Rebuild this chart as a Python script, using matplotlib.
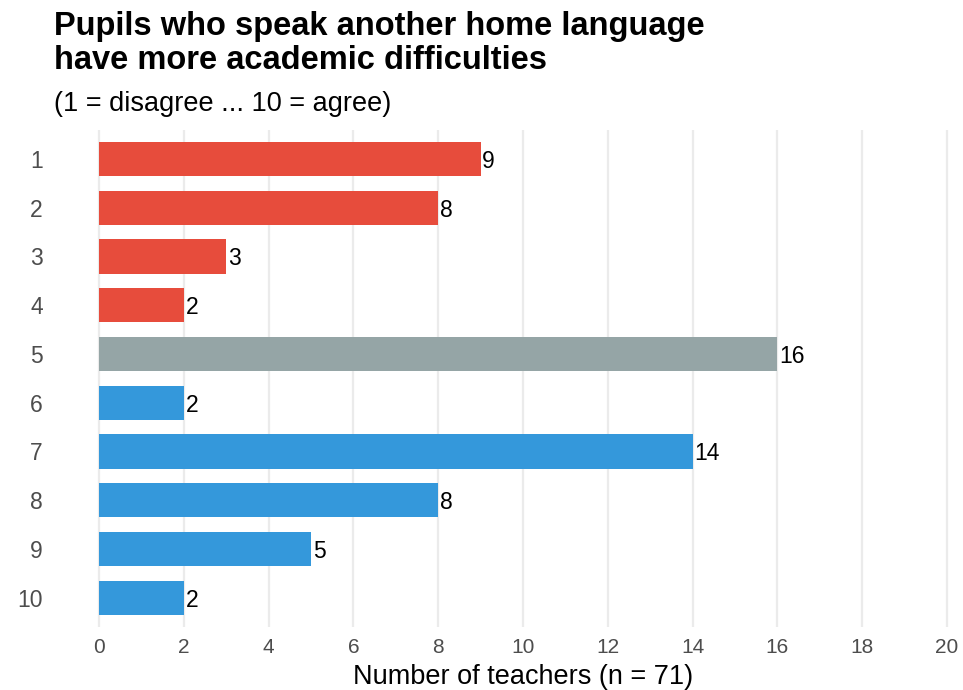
import matplotlib
matplotlib.use("Agg")
import matplotlib.pyplot as plt

# Likert responses, 1 = disagree ... 10 = agree
ratings = ["1", "2", "3", "4", "5", "6", "7", "8", "9", "10"]
counts = [9, 8, 3, 2, 16, 2, 14, 8, 5, 2]
groups = ["disagree", "disagree", "disagree", "disagree", "neutral",
          "agree", "agree", "agree", "agree", "agree"]

COLORS = {"disagree": "#E74C3C", "neutral": "#95A5A6", "agree": "#3498DB"}
FONT = ["Liberation Sans", "DejaVu Sans"]
XMIN, XMAX = -1, 20.2

fig = plt.figure(figsize=(9.63, 6.9), dpi=100)
ax = fig.add_axes([0.0588, 0.0913, 0.9334, 0.7207])

ypos = list(range(1, len(ratings) + 1))
ax.barh(ypos, counts, height=0.7,
        color=[COLORS[g] for g in groups], zorder=2)

for y, c in zip(ypos, counts):
    ax.text(c + 0.04, y, str(c), va="center_baseline", ha="left",
            fontsize=16.5, family=FONT, color="black")

ax.set_xlim(XMIN, XMAX)
ax.set_ylim(10.6, 0.4)
ax.set_xticks(range(0, 21, 2))
ax.set_yticks(ypos)
ax.set_yticklabels(ratings)

ax.grid(axis="x", color="#EBEBEB", linewidth=1.6, zorder=0)
ax.grid(axis="y", visible=False)
for s in ax.spines.values():
    s.set_visible(False)
ax.tick_params(axis="both", length=0, labelcolor="#4D4D4D")
ax.tick_params(axis="x", pad=8, labelsize=15)
ax.tick_params(axis="y", pad=10, labelsize=16.5)
for lbl in ax.get_xticklabels() + ax.get_yticklabels():
    lbl.set_family(FONT)

# centre the axis title over the 0-20 range
ax.set_xlabel("Number of teachers (n = 71)", fontsize=19.5, family=FONT,
              color="black")
ax.xaxis.set_label_coords((10 - XMIN) / (XMAX - XMIN), -0.1)
ax.xaxis.label.set_va("center")

fig.text(0.056, 0.937, "Pupils who speak another home language\nhave more academic difficulties",
         fontsize=23.5, fontweight="bold", family=FONT,
         va="center", ha="left", linespacing=1.12)
fig.text(0.056, 0.849, "(1 = disagree ... 10 = agree)", fontsize=19.5,
         family=FONT, va="center", ha="left")

fig.savefig("out.png", dpi=100)
